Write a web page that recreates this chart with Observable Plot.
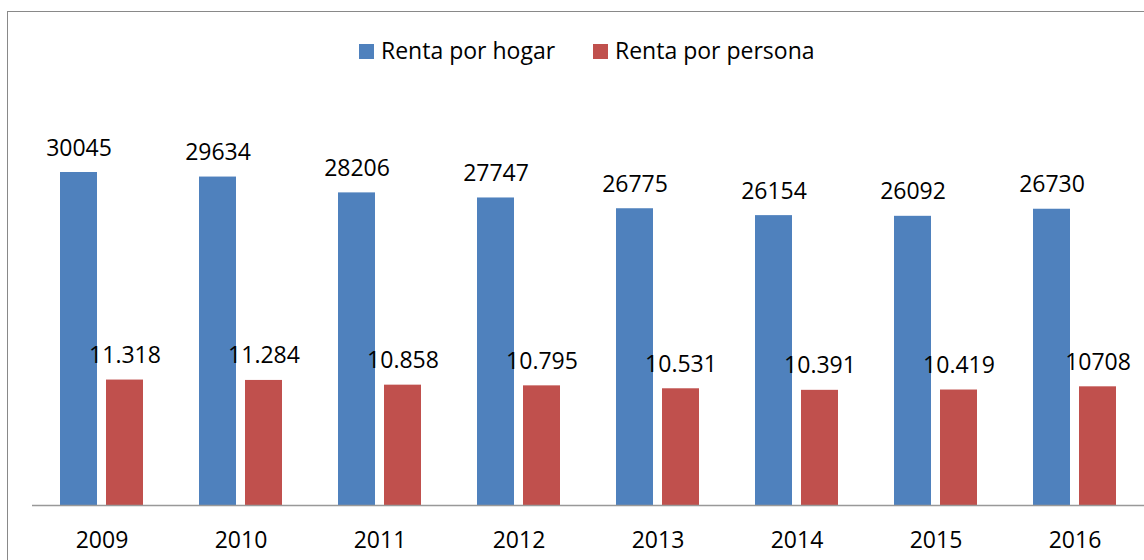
<!DOCTYPE html>
<html><head><meta charset="utf-8">
<script src="https://cdn.jsdelivr.net/npm/d3@7"></script>
<script src="https://cdn.jsdelivr.net/npm/@observablehq/plot@0.6"></script>
<style>
html,body{margin:0;padding:0;background:#fff;overflow:hidden;}
#wrap{position:relative;width:1144px;height:560px;font-family:"Open Sans",sans-serif;overflow:hidden;}
#frame{position:absolute;left:7px;top:11px;width:1200px;height:600px;border:1px solid #898989;}
#chart{position:absolute;left:0;top:0;}
.sw{position:absolute;width:15px;height:15px;top:44px;}
.lt{position:absolute;top:34.6px;font-size:23px;line-height:31px;color:#000;white-space:nowrap;}
</style>
</head><body>
<div id="wrap"><div id="frame"></div><div id="chart"></div><div id="legend"></div></div>
<script>
const years = ["2009","2010","2011","2012","2013","2014","2015","2016"];
const series = ["Renta por hogar","Renta por persona"];
const colors = ["#4f81bd","#c0504d"];
const hogar = [30045, 29634, 28206, 27747, 26775, 26154, 26092, 26730];
const persona = [11318, 11284, 10858, 10795, 10531, 10391, 10419, 10708];
const hogarLabels = ["30045","29634","28206","27747","26775","26154","26092","26730"];
const personaLabels = ["11.318","11.284","10.858","10.795","10.531","10.391","10.419","10708"];

const rows = [];
years.forEach((yr, i) => {
  rows.push({year: yr, series: series[0], value: hogar[i], label: hogarLabels[i]});
  rows.push({year: yr, series: series[1], value: persona[i], label: personaLabels[i]});
});

const chart = Plot.plot({
  width: 1144, height: 560,
  marginLeft: 31, marginRight: 0, marginTop: 106, marginBottom: 55,
  style: {fontFamily: "Open Sans", fontSize: "23px", background: "transparent", color: "#000"},
  fx: {domain: years, padding: 0, label: null},
  x: {domain: series, paddingInner: 0.204, paddingOuter: 0.597, axis: null},
  y: {domain: [0, 36000], axis: null},
  color: {domain: series, range: colors},
  marks: [
    Plot.barY(rows, {fx: "year", x: "series", y: "value", fill: "series"}),
    Plot.text(rows, {fx: "year", x: "series", y: "value", text: "label", dy: -17, lineAnchor: "bottom", fill: "#000", fontSize: 23}),
    Plot.ruleY([0], {stroke: "#999", strokeWidth: 1.5}),
    Plot.axisFx({anchor: "bottom", tickSize: 0, tickPadding: 26, fontSize: 23, label: null})
  ]
});
document.getElementById("chart").appendChild(chart);

const legend = document.getElementById("legend");
const legendX = [359, 593];
series.forEach((s, i) => {
  const sw = document.createElement("div");
  sw.className = "sw"; sw.style.left = legendX[i] + "px"; sw.style.background = colors[i];
  const t = document.createElement("div");
  t.className = "lt"; t.style.left = (legendX[i] + 22) + "px"; t.textContent = s;
  legend.appendChild(sw); legend.appendChild(t);
});
</script>
</body></html>
